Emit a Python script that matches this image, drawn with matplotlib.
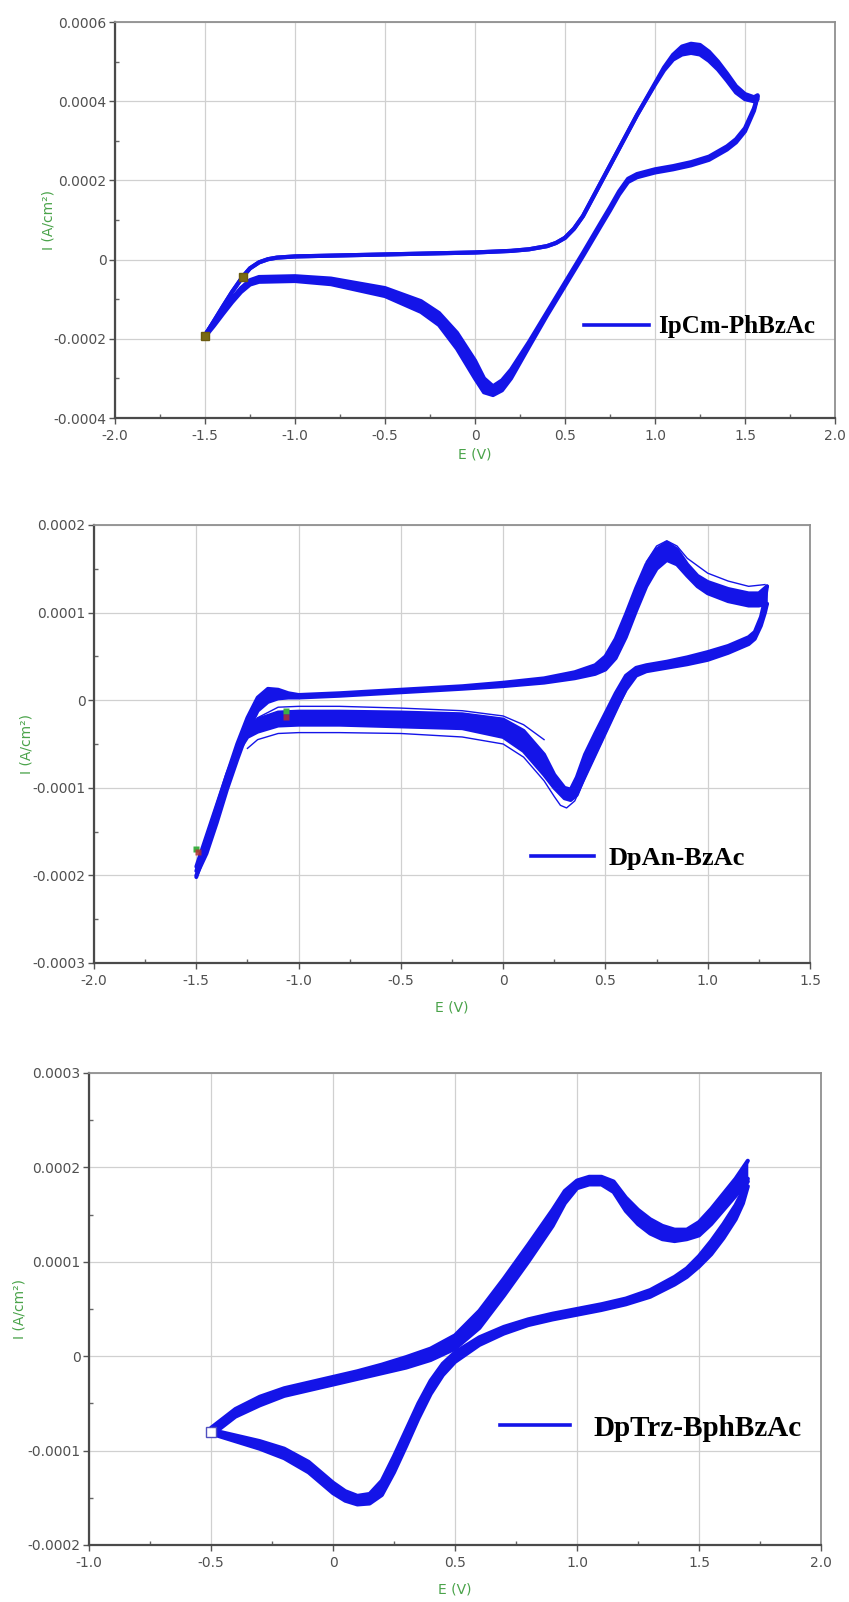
import numpy as np
import matplotlib
matplotlib.use("Agg")
import matplotlib.pyplot as plt
from matplotlib.lines import Line2D
from matplotlib.ticker import FixedLocator, MultipleLocator

# ------------------------------------------------------------------
# Data (currents in units of 1e-4 A/cm^2, potentials in V)
# "a" / "b" = the two edges of the band formed by the repeated cycles
# ------------------------------------------------------------------

# ---- Panel 1 : IpCm-PhBzAc ----
p1_label = "IpCm-PhBzAc"
p1_E_fwd = [-1.50, -1.45, -1.40, -1.35, -1.29, -1.25, -1.20, -1.15, -1.10, -1.00, -0.80, -0.50,
            -0.20, 0.00, 0.20, 0.30, 0.40, 0.45, 0.50, 0.55, 0.60, 0.70, 0.80, 0.90, 1.00, 1.05,
            1.10, 1.15, 1.20, 1.25, 1.30, 1.35, 1.40, 1.45, 1.50, 1.55, 1.57]
p1_I_fwd_a = [-1.92, -1.55, -1.18, -0.82, -0.43, -0.22, -0.07, 0.01, 0.05, 0.08, 0.10, 0.13,
              0.16, 0.18, 0.22, 0.26, 0.34, 0.42, 0.55, 0.78, 1.10, 1.95, 2.80, 3.65, 4.45, 4.85,
              5.17, 5.38, 5.45, 5.42, 5.25, 5.00, 4.70, 4.38, 4.18, 4.10, 4.15]
p1_I_fwd_b = [-1.92, -1.55, -1.18, -0.82, -0.43, -0.22, -0.07, 0.01, 0.05, 0.08, 0.10, 0.13,
              0.16, 0.18, 0.22, 0.26, 0.34, 0.42, 0.55, 0.78, 1.10, 1.95, 2.80, 3.65, 4.42, 4.78,
              5.05, 5.18, 5.22, 5.18, 5.02, 4.80, 4.52, 4.22, 4.05, 4.00, 4.05]
p1_E_rev = [1.57, 1.55, 1.50, 1.45, 1.40, 1.30, 1.20, 1.10, 1.00, 0.90, 0.85, 0.80, 0.75, 0.70,
            0.60, 0.50, 0.40, 0.30, 0.20, 0.15, 0.10, 0.05, 0.00, -0.10, -0.20, -0.30, -0.50,
            -0.80, -1.00, -1.20, -1.25, -1.30, -1.35, -1.40, -1.45, -1.50]
p1_I_rev_a = [4.12, 3.82, 3.32, 3.04, 2.86, 2.60, 2.46, 2.36, 2.28, 2.16, 2.04, 1.72, 1.32, 0.94,
              0.17, -0.58, -1.33, -2.08, -2.78, -3.05, -3.20, -3.00, -2.55, -1.85, -1.35, -1.05,
              -0.72, -0.48, -0.42, -0.44, -0.52, -0.72, -0.98, -1.27, -1.57, -1.90]
p1_I_rev_b = [4.12, 3.76, 3.24, 2.96, 2.78, 2.52, 2.38, 2.28, 2.20, 2.08, 1.96, 1.64, 1.24, 0.86,
              0.09, -0.66, -1.41, -2.20, -3.00, -3.30, -3.42, -3.35, -3.00, -2.25, -1.65, -1.32,
              -0.92, -0.62, -0.54, -0.56, -0.63, -0.82, -1.08, -1.37, -1.67, -1.95]
p1_mark_E = [-1.50, -1.29]
p1_mark_I = [-1.92, -0.43]
p1_xticks = [-2.0, -1.5, -1.0, -0.5, 0.0, 0.5, 1.0, 1.5, 2.0]
p1_xticklabels = ["-2.0", "-1.5", "-1.0", "-0.5", "0", "0.5", "1.0", "1.5", "2.0"]
p1_yticks = [-4, -2, 0, 2, 4, 6]
p1_yticklabels = ["-0.0004", "-0.0002", "0", "0.0002", "0.0004", "0.0006"]

# ---- Panel 2 : DpAn-BzAc ----
p2_label = "DpAn-BzAc"
p2_E_fwd = [-1.50, -1.45, -1.40, -1.35, -1.30, -1.25, -1.20, -1.15, -1.10, -1.05, -1.00, -0.80,
            -0.50, -0.20, 0.00, 0.20, 0.35, 0.45, 0.50, 0.55, 0.60, 0.65, 0.70, 0.75, 0.80, 0.85,
            0.90, 0.95, 1.00, 1.10, 1.20, 1.25, 1.29]
p2_I_fwd_a = [-1.95, -1.58, -1.22, -0.85, -0.50, -0.20, 0.03, 0.13, 0.12, 0.08, 0.06, 0.08,
              0.12, 0.16, 0.20, 0.25, 0.32, 0.40, 0.50, 0.70, 0.98, 1.28, 1.55, 1.72, 1.80, 1.72,
              1.55, 1.42, 1.35, 1.27, 1.22, 1.22, 1.30]
p2_I_fwd_b = [-2.00, -1.75, -1.40, -1.02, -0.68, -0.36, -0.12, -0.02, 0.02, 0.03, 0.03, 0.05,
              0.09, 0.13, 0.16, 0.20, 0.25, 0.30, 0.35, 0.48, 0.72, 1.02, 1.30, 1.50, 1.60, 1.55,
              1.42, 1.30, 1.22, 1.13, 1.08, 1.08, 1.10]
p2_E_rev = [1.29, 1.28, 1.26, 1.23, 1.20, 1.10, 1.00, 0.90, 0.80, 0.70, 0.65, 0.60, 0.55, 0.50,
            0.45, 0.40, 0.36, 0.33, 0.30, 0.25, 0.20, 0.10, 0.00, -0.20, -0.50, -0.80, -1.00,
            -1.10, -1.20, -1.25, -1.30, -1.35, -1.40, -1.45, -1.50]
p2_I_rev_a = [1.30, 1.15, 0.95, 0.78, 0.72, 0.62, 0.55, 0.49, 0.44, 0.40, 0.37, 0.28, 0.08, -0.15,
              -0.38, -0.62, -0.88, -1.02, -1.00, -0.85, -0.62, -0.35, -0.22, -0.16, -0.14, -0.13,
              -0.13, -0.14, -0.22, -0.34, -0.55, -0.85, -1.20, -1.55, -1.90]
p2_I_rev_b = [1.10, 1.00, 0.85, 0.70, 0.64, 0.54, 0.46, 0.41, 0.37, 0.33, 0.28, 0.12, -0.10, -0.35,
              -0.60, -0.85, -1.08, -1.14, -1.12, -1.00, -0.85, -0.58, -0.42, -0.32, -0.30, -0.28,
              -0.28, -0.29, -0.36, -0.42, -0.60, -0.96, -1.34, -1.68, -2.02]
# single outlying cycles (thin lines)
p2_E_out_low = [0.60, 0.50, 0.45, 0.40, 0.35, 0.31, 0.28, 0.25, 0.20, 0.10, 0.00, -0.20, -0.50,
                -0.80, -1.00, -1.10, -1.20, -1.25]
p2_I_out_low = [0.10, -0.40, -0.65, -0.90, -1.15, -1.23, -1.20, -1.10, -0.92, -0.65, -0.50, -0.42,
                -0.38, -0.37, -0.37, -0.38, -0.45, -0.55]
p2_E_out_up = [-1.20, -1.10, -1.00, -0.80, -0.50, -0.20, 0.00, 0.10, 0.20]
p2_I_out_up = [-0.20, -0.08, -0.07, -0.07, -0.09, -0.12, -0.18, -0.28, -0.45]
p2_E_out_pk = [0.70, 0.75, 0.80, 0.85, 0.90, 1.00, 1.10, 1.20, 1.28]
p2_I_out_pk = [1.58, 1.76, 1.82, 1.76, 1.62, 1.45, 1.36, 1.30, 1.32]
p2_markG_E = [-1.50, -1.06]
p2_markG_I = [-1.70, -0.12]
p2_markR_E = [-1.49, -1.06]
p2_markR_I = [-1.73, -0.19]
p2_xticks = [-2.0, -1.5, -1.0, -0.5, 0.0, 0.5, 1.0, 1.5]
p2_xticklabels = ["-2.0", "-1.5", "-1.0", "-0.5", "0", "0.5", "1.0", "1.5"]
p2_yticks = [-3, -2, -1, 0, 1, 2]
p2_yticklabels = ["-0.0003", "-0.0002", "-0.0001", "0", "0.0001", "0.0002"]

# ---- Panel 3 : DpTrz-BphBzAc ----
p3_label = "DpTrz-BphBzAc"
p3_E_fwd = [-0.50, -0.40, -0.30, -0.20, -0.10, 0.00, 0.10, 0.20, 0.30, 0.40, 0.50, 0.60, 0.70,
            0.80, 0.90, 0.95, 1.00, 1.05, 1.10, 1.15, 1.20, 1.25, 1.30, 1.35, 1.40, 1.45, 1.50,
            1.55, 1.60, 1.65, 1.70]
p3_I_fwd_a = [-0.76, -0.56, -0.43, -0.34, -0.28, -0.22, -0.16, -0.09, -0.01, 0.08, 0.22, 0.48,
              0.82, 1.18, 1.55, 1.75, 1.86, 1.90, 1.90, 1.85, 1.68, 1.55, 1.45, 1.38, 1.34, 1.34,
              1.42, 1.56, 1.72, 1.88, 2.07]
p3_I_fwd_b = [-0.84, -0.64, -0.52, -0.42, -0.36, -0.30, -0.24, -0.18, -0.12, -0.04, 0.08, 0.30,
              0.64, 1.00, 1.38, 1.62, 1.78, 1.82, 1.82, 1.74, 1.54, 1.40, 1.30, 1.24, 1.22, 1.24,
              1.28, 1.40, 1.55, 1.70, 1.85]
p3_E_rev = [1.70, 1.68, 1.65, 1.60, 1.55, 1.50, 1.45, 1.40, 1.30, 1.20, 1.10, 1.00, 0.90, 0.80,
            0.70, 0.60, 0.50, 0.45, 0.40, 0.35, 0.30, 0.25, 0.20, 0.15, 0.10, 0.05, 0.00, -0.10,
            -0.20, -0.30, -0.40, -0.50]
p3_I_rev_a = [1.88, 1.75, 1.60, 1.40, 1.22, 1.06, 0.93, 0.84, 0.70, 0.61, 0.55, 0.50, 0.45, 0.39,
              0.31, 0.20, 0.04, -0.08, -0.26, -0.50, -0.78, -1.06, -1.32, -1.46, -1.48, -1.43,
              -1.34, -1.12, -0.98, -0.90, -0.84, -0.78]
p3_I_rev_b = [1.80, 1.62, 1.45, 1.25, 1.08, 0.95, 0.84, 0.76, 0.63, 0.55, 0.49, 0.44, 0.39, 0.33,
              0.24, 0.12, -0.06, -0.20, -0.40, -0.66, -0.95, -1.23, -1.47, -1.56, -1.57, -1.53,
              -1.45, -1.23, -1.08, -0.98, -0.90, -0.82]
p3_mark_E = [-0.50]
p3_mark_I = [-0.80]
p3_xticks = [-1.0, -0.5, 0.0, 0.5, 1.0, 1.5, 2.0]
p3_xticklabels = ["-1.0", "-0.5", "0", "0.5", "1.0", "1.5", "2.0"]
p3_yticks = [-2, -1, 0, 1, 2, 3]
p3_yticklabels = ["-0.0002", "-0.0001", "0", "0.0001", "0.0002", "0.0003"]

SCALE = 1e-4
BLUE = "#1414e8"
GREEN = "#4aa34a"
TICKC = "#505050"

fig = plt.figure(figsize=(8.49, 16.02), dpi=100)
fig.patch.set_facecolor("white")


def style_axes(ax, xticks, xlabels, yticks, ylabels, xminor, yminor, ylab_x, xlab_pad):
    ax.set_xlim(xticks[0], xticks[-1])
    ax.set_ylim(yticks[0] * SCALE, yticks[-1] * SCALE)
    ax.xaxis.set_major_locator(FixedLocator(xticks))
    ax.set_xticklabels(xlabels)
    yt = [v * SCALE for v in yticks]
    ax.yaxis.set_major_locator(FixedLocator(yt))
    ax.set_yticklabels(ylabels)
    ax.xaxis.set_minor_locator(MultipleLocator(xminor))
    ax.yaxis.set_minor_locator(MultipleLocator(yminor * SCALE))
    ax.grid(True, which="major", color="#d0d0d0", lw=0.9)
    ax.set_axisbelow(True)
    ax.tick_params(which="major", direction="out", length=4, width=1.0, color="#555555",
                   labelsize=10, labelcolor=TICKC, pad=2)
    ax.tick_params(which="minor", direction="in", length=3, width=1.0, color="#666666")
    ax.tick_params(axis="x", which="major", pad=4)
    for s in ["left", "bottom"]:
        ax.spines[s].set_color("#4a4a4a")
        ax.spines[s].set_linewidth(1.6)
    for s in ["top", "right"]:
        ax.spines[s].set_color("#909090")
        ax.spines[s].set_linewidth(1.3)
    ax.set_ylabel("I (A/cm²)", color=GREEN, fontsize=10)
    ax.yaxis.set_label_coords(ylab_x, 0.5)
    ax.set_xlabel("E (V)", color=GREEN, fontsize=10, labelpad=xlab_pad)


def band(ax, E, a, b, lw):
    E = np.asarray(E)
    a = np.asarray(a) * SCALE
    b = np.asarray(b) * SCALE
    ax.fill_between(E, a, b, color=BLUE, lw=0)
    ax.plot(E, a, color=BLUE, lw=lw, solid_joinstyle="round", solid_capstyle="round")
    ax.plot(E, b, color=BLUE, lw=lw, solid_joinstyle="round", solid_capstyle="round")


def add_legend(ax, label, x, y, fs, hl, pad):
    h = Line2D([], [], color=BLUE, lw=2.6)
    ax.legend([h], [label], loc="center left", bbox_to_anchor=(x, y), frameon=False,
              borderpad=0, borderaxespad=0, handlelength=hl, handletextpad=pad,
              prop={"family": "Liberation Serif", "weight": "bold", "size": fs})


# ---------------- Panel 1 ----------------
ax1 = fig.add_axes([115 / 849, 1 - 418 / 1602, 720 / 849, 396 / 1602])
band(ax1, p1_E_fwd, p1_I_fwd_a, p1_I_fwd_b, 3.0)
band(ax1, p1_E_rev, p1_I_rev_a, p1_I_rev_b, 3.0)
ax1.plot(p1_mark_E, np.array(p1_mark_I) * SCALE, "s", color="#7a6a14", ms=6, mec="#6a5a10")
style_axes(ax1, p1_xticks, p1_xticklabels, p1_yticks, p1_yticklabels, 0.25, 1, -0.082, 3)
add_legend(ax1, p1_label, (584 - 115) / 720, (418 - 327) / 396, 18, 2.6, 0.35)

# ---------------- Panel 2 ----------------
ax2 = fig.add_axes([94 / 849, 1 - 963 / 1602, 716 / 849, 438 / 1602])
band(ax2, p2_E_fwd, p2_I_fwd_a, p2_I_fwd_b, 2.8)
band(ax2, p2_E_rev, p2_I_rev_a, p2_I_rev_b, 2.8)
for E, I in [(p2_E_out_low, p2_I_out_low), (p2_E_out_up, p2_I_out_up), (p2_E_out_pk, p2_I_out_pk)]:
    ax2.plot(E, np.array(I) * SCALE, color=BLUE, lw=1.0)
ax2.plot(p2_markG_E, np.array(p2_markG_I) * SCALE, "s", color="#3cb043", ms=5, mec="none")
ax2.plot(p2_markR_E, np.array(p2_markR_I) * SCALE, "s", color="#b03030", ms=5, mec="none", alpha=0.85)
style_axes(ax2, p2_xticks, p2_xticklabels, p2_yticks, p2_yticklabels, 0.25, 0.5, -0.084, 9)
add_legend(ax2, p2_label, (531 - 94) / 716, (963 - 858) / 438, 19, 2.4, 0.55)

# ---------------- Panel 3 ----------------
ax3 = fig.add_axes([89 / 849, 57 / 1602, 732 / 849, 472 / 1602])
band(ax3, p3_E_fwd, p3_I_fwd_a, p3_I_fwd_b, 3.0)
band(ax3, p3_E_rev, p3_I_rev_a, p3_I_rev_b, 3.0)
ax3.plot(p3_mark_E, np.array(p3_mark_I) * SCALE, "s", mfc="white", mec="#5050c0", ms=7, mew=1.0)
style_axes(ax3, p3_xticks, p3_xticklabels, p3_yticks, p3_yticklabels, 0.25, 0.5, -0.086, 9)
add_legend(ax3, p3_label, (500 - 89) / 732, (1545 - 1428) / 472, 21, 2.4, 0.8)

fig.savefig("out.png", dpi=100, facecolor="white")
